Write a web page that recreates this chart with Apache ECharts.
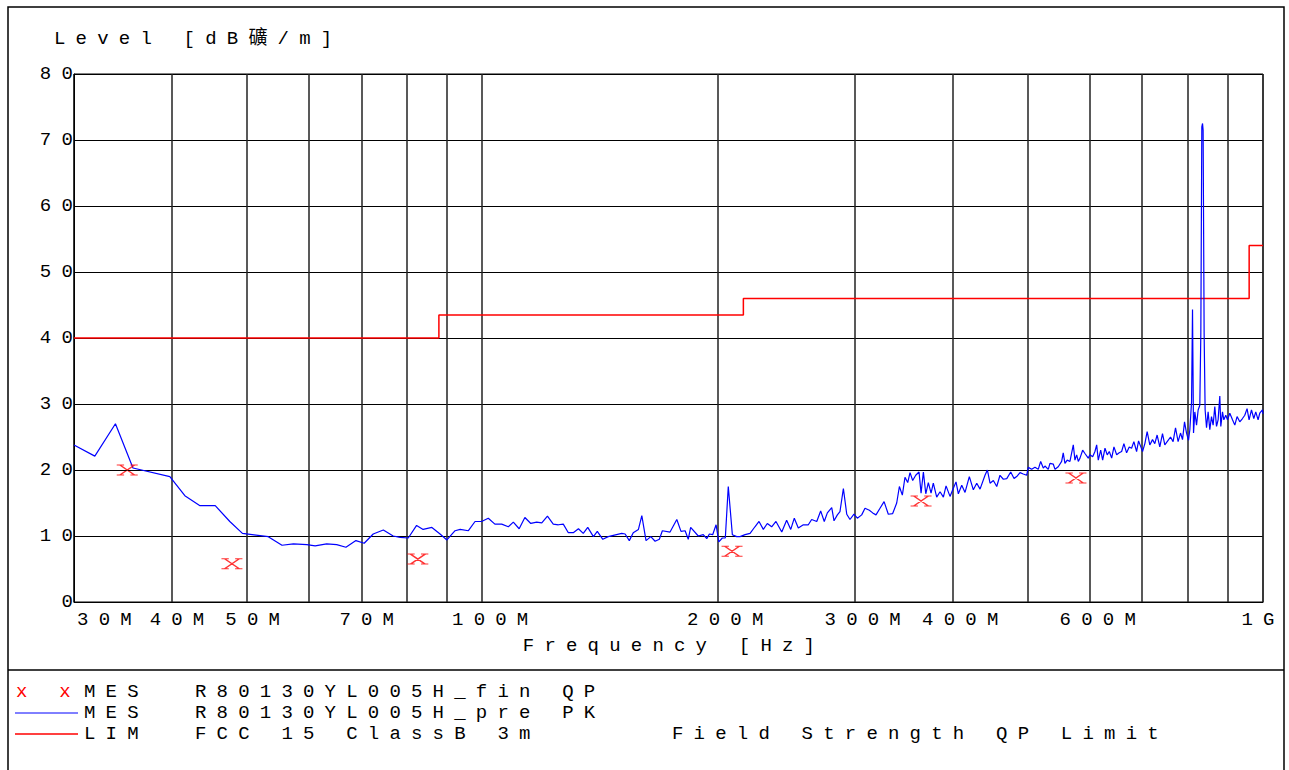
<!DOCTYPE html>
<html><head><meta charset="utf-8">
<script src="https://cdn.jsdelivr.net/npm/echarts@6/dist/echarts.min.js"></script>
<style>
html,body{margin:0;padding:0;background:#fff;}
#chart{width:1289px;height:770px;}
#chart text{letter-spacing:10.2px;}
</style></head><body><div id="chart"></div>
<script>
// Peak (PK) pre-scan trace, MHz / dBuV/m
const pkFreq = [30,31.9,33.9,35.7,39.8,41.6,43.5,45.5,47.5,49.3,53.2,55.4,57.3,59.6,61.1,63.2,65.1,66.9,68.9,70.6,72.5,74.7,76.9,78.5,80.4,82.4,84.0,86.2,88.3,90.1,92.3,93.7,
96.0,97.9,99.8,101.8,103.8,105.9,108.0,109.6,111.5,113.4,115.4,117.4,119.2,121.2,123.3,125.2,127.0,128.9,130.8,132.8,134.7,136.5,138.8,140.4,142.7,145.0,147.2,150.9,152.4,154.3,156.1,158.5,160.1,162.1,164.4,166.5,168.6,170.1,174.0,177.5,179.7,181.9,183.6,184.9,189.1,191.9,193.9,195.4,197.3,199.3,200.9,203.0,204.8,206.6,209.1,211.8,213.9,
217.1,220.3,223.5,226.2,229.1,231.8,234.8,237.8,241.9,245.4,248.4,251.0,254.0,257.8,261.6,264.2,268.2,271.3,274.2,276.7,280.3,282.2,285.0,287.2,290.1,293.0,295.8,299.3,302.3,306.2,309.2,313.2,316.3,319.4,323.2,327.1,331.2,335.5,339.5,342.2,345.2,347.9,350.7,353.1,355.9,359.1,362.6,364.8,367.3,369.9,372.7,375.7,378.2,382.0,385.8,389.6,392.7,397.3,400.5,404.4,407.2,411.3,415.3,420.6,425.6,429.9,434.1,440.5,443.6,447.1,451.5,456.0,460.4,465.0,469.7,475.2,479.9,484.5,488.4,
493.1,498.1,500.4,505.5,510.4,515.4,519.1,523.1,525.7,530.8,533.5,538.7,541.5,546.7,552.2,554.8,557.6,561.4,565.9,571.5,574.3,577.2,580.0,582.9,587.5,591.5,597.3,600.3,605.1,609.2,612.3,615.2,619.6,623.2,627.5,631.7,635.5,640.0,644.3,649.5,654.4,659.1,663.5,668.8,674.0,678.7,683.3,688.8,692.8,697.5,701.0,705.8,710.6,716.2,721.9,726.8,731.8,737.6,743.5,748.6,755.9,761.3,767.1,772.6,778.5,784.1,788.7,793.4,798.1,802.8,805.9,810.0,812.3,814.7,817.9,822.0,825.9,830.0,832.5,834.9,836.7,838.1,840.6,843.1,846.6,850.6,854.8,859.1,863.2,867.5,871.9,876.0,880.4,883.0,887.4,890.9,896.1,900.6,906.7,914.0,920.2,926.4,933.8,941.3,947.7,954.1,959.8,966.6,973.2,978.9,985.6,990.5,998.4,1000];
const pkLevel = [23.8,22.1,27.0,20.3,19.0,16.1,14.6,14.6,12.2,10.4,9.9,8.6,8.8,8.7,8.5,8.8,8.7,8.3,9.3,8.9,10.3,10.9,10.0,9.8,9.7,11.6,11.0,11.3,10.3,9.4,10.8,11.0,
10.8,12.2,12.2,12.7,11.8,11.8,11.4,12.1,11.1,12.8,11.9,12.1,12.0,13.0,11.8,11.7,11.8,10.5,10.5,11.1,10.4,11.3,9.9,10.7,9.5,9.9,10.1,10.4,10.3,9.3,10.5,11.0,13.1,9.3,9.9,9.2,9.5,10.8,10.6,12.5,10.7,10.8,9.5,11.3,10.0,10.2,9.6,10.3,10.2,11.7,9.1,9.7,9.7,17.5,10.2,9.9,9.9,
10.2,10.4,11.4,12.2,11.0,11.9,11.4,12.2,10.6,12.4,11.0,12.7,11.2,11.7,11.7,12.5,12.2,13.8,12.2,13.5,14.3,12.3,13.2,13.7,17.2,13.3,12.5,13.3,12.7,13.2,14.2,13.9,13.5,13.2,14.2,15.2,13.3,13.4,15.0,17.5,16.2,18.9,18.1,19.6,18.4,19.2,19.7,16.5,19.7,16.4,18.1,16.5,18.0,15.9,16.7,15.9,17.6,16.0,17.0,18.2,16.4,17.7,16.6,19.0,17.0,18.0,17.1,19.2,20.0,18.0,18.4,17.5,19.2,18.6,18.7,19.7,18.7,19.1,19.6,
19.4,19.2,20.4,20.1,20.4,20.1,21.3,20.3,20.6,20.1,21.0,20.9,20.1,20.5,21.3,22.6,21.0,21.5,21.3,23.8,21.5,22.3,21.3,21.8,23.0,22.5,21.8,22.3,22.0,22.8,23.8,21.5,23.0,21.5,23.3,22.3,22.8,21.8,23.5,22.3,22.6,22.8,24.0,22.6,23.5,23.3,24.3,22.8,24.4,23.5,22.8,24.0,25.8,23.8,24.6,24.0,25.3,23.5,25.5,23.8,24.5,25.0,24.3,26.4,24.3,25.6,24.6,27.3,25.6,24.5,26.1,30.3,44.3,25.6,28.8,26.8,29.1,29.8,40.8,72.0,72.5,71.5,40.8,29.1,26.4,28.8,26.1,28.1,26.8,29.6,26.6,27.6,31.2,26.6,28.8,27.6,28.3,27.6,28.6,27.6,26.8,28.1,27.3,27.8,28.3,29.3,27.6,29.1,27.8,28.8,27.6,28.6,29.1,28.5];
// Quasi-peak final measurements
const qpFreq = [35.1,47.8,82.7,208.9,364.8,576];
const qpLevel = [20.0,5.8,6.5,7.7,15.3,18.8];
// FCC 15 Class B 3m limit
const limFreq = [30,88,88,216,216,960,960,1000];
const limLevel = [40,40,43.5,43.5,46,46,54,54];
// axis ticks
const xLabelValues = [30,40,50,70,100,200,300,400,600,1000];
const xLabelTexts = ['30M','40M','50M','70M','100M','200M','300M','400M','600M','1G'];
const xGridValues = [30,40,50,60,70,80,90,100,200,300,400,500,600,700,800,900,1000];

const FONT = "'Liberation Mono','Noto Sans CJK SC',monospace";
const FS = 19;

const chart = echarts.init(document.getElementById('chart'), null, {renderer:'svg'});

function xFmt(v){
  let idx = -1;
  for (let i=0;i<xLabelValues.length;i++){ if (Math.abs(v-xLabelValues[i])/xLabelValues[i] < 1e-6) idx=i; }
  if (idx<0) return '';
  const t = xLabelTexts[idx];
  if (idx===0) return '{a|'+t+'}';
  if (idx===xLabelValues.length-1) return '{z|'+t+'}';
  return (t.length>3 ? '{b4|' : '{b3|') + t + '}';
}
const rs = {fontFamily:FONT, fontSize:FS, color:'#000'};

chart.setOption({
  animation:false,
  backgroundColor:'#fff',
  title:{text:'Level [dB礦/m]', left:49, top:24, textStyle:{fontFamily:FONT, fontSize:FS, fontWeight:'normal', color:'#000'}},
  grid:{left:74, right:26, top:74, bottom:168, show:true, borderColor:'#000', borderWidth:1},
  xAxis:{type:'log', logBase:10, min:30, max:1000,
    axisLine:{show:true, lineStyle:{color:'#000', width:1}},
    axisTick:{show:false, customValues:xGridValues},
    splitLine:{show:true, lineStyle:{color:'#222', width:1.5}},
    axisLabel:{customValues:xLabelValues, formatter:xFmt, margin:8,
      rich:{a:Object.assign({padding:[0,0,0,71]},rs), b3:Object.assign({padding:[0,0,0,21]},rs), b4:Object.assign({padding:[0,0,0,26]},rs), z:Object.assign({},rs)}},
    name:'Frequency [Hz]', nameLocation:'middle', nameGap:34,
    nameTextStyle:{fontFamily:FONT, fontSize:FS, color:'#000', padding:[0,0,0,11]}
  },
  yAxis:{type:'value', min:0, max:80, interval:10,
    axisLine:{show:true, lineStyle:{color:'#000', width:1}},
    axisTick:{show:false},
    splitLine:{show:true, lineStyle:{color:'#000', width:1}},
    axisLabel:{margin:-9, fontFamily:FONT, fontSize:FS, color:'#000'}
  },
  series:[
    {type:'line', name:'LIM', data:limFreq.map((f,i)=>[f,limLevel[i]]), showSymbol:false, symbol:'none',
      lineStyle:{color:'#ff0000', width:1.5}, z:3},
    {type:'line', name:'PK', data:pkFreq.map((f,i)=>[f,pkLevel[i]]), showSymbol:false, symbol:'none',
      lineStyle:{color:'#0000ff', width:1.2}, z:4},
    {type:'scatter', name:'QP', data:qpFreq.map((f,i)=>[f,qpLevel[i]]),
      symbol:'path://M3,0L17,10M17,0L3,10M0,0L7,0M13,0L20,0M0,10L7,10M13,10L20,10', symbolSize:[21,10],
      itemStyle:{color:'rgba(0,0,0,0)', borderColor:'#ff0000', borderWidth:1.4}, z:5}
  ],
  graphic:[
    {type:'rect', silent:true, shape:{x:8,y:7,width:1276,height:800}, style:{fill:'none', stroke:'#000', lineWidth:1.5}},
    {type:'line', silent:true, shape:{x1:8,y1:670,x2:1284,y2:670}, style:{stroke:'#000', lineWidth:1.5}},
    {type:'text', silent:true, style:{text:'x x', x:16, y:692, fill:'#ff0000', font:FS+'px '+FONT, textVerticalAlign:'middle'}},
    {type:'text', silent:true, style:{text:'MES', x:84, y:692, fill:'#000', font:FS+'px '+FONT, textVerticalAlign:'middle'}},
    {type:'text', silent:true, style:{text:'R80130YL005H_fin QP', x:195, y:692, fill:'#000', font:FS+'px '+FONT, textVerticalAlign:'middle'}},
    {type:'line', silent:true, shape:{x1:15,y1:713,x2:78,y2:713}, style:{stroke:'#0000ff', lineWidth:1}},
    {type:'text', silent:true, style:{text:'MES', x:84, y:713, fill:'#000', font:FS+'px '+FONT, textVerticalAlign:'middle'}},
    {type:'text', silent:true, style:{text:'R80130YL005H_pre PK', x:195, y:713, fill:'#000', font:FS+'px '+FONT, textVerticalAlign:'middle'}},
    {type:'line', silent:true, shape:{x1:15,y1:734,x2:78,y2:734}, style:{stroke:'#ff0000', lineWidth:1.5}},
    {type:'text', silent:true, style:{text:'LIM', x:84, y:734, fill:'#000', font:FS+'px '+FONT, textVerticalAlign:'middle'}},
    {type:'text', silent:true, style:{text:'FCC 15 ClassB 3m', x:195, y:734, fill:'#000', font:FS+'px '+FONT, textVerticalAlign:'middle'}},
    {type:'text', silent:true, style:{text:'Field Strength QP Limit', x:672, y:734, fill:'#000', font:FS+'px '+FONT, textVerticalAlign:'middle'}}
  ]
});
</script></body></html>
